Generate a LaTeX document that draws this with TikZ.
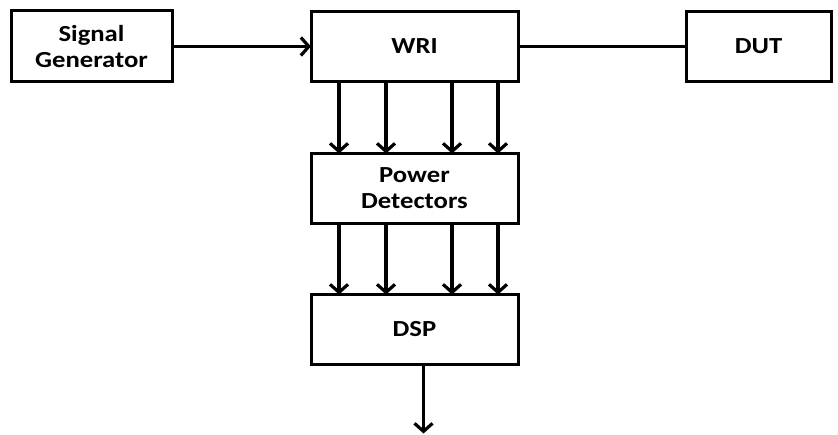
\documentclass[tikz,border=0pt]{standalone}
\usepackage{fontspec}
\setmainfont{Carlito}[FakeStretch=1.16]
\usetikzlibrary{arrows.meta,positioning,calc}

\begin{document}
\begin{tikzpicture}[
  x=1pt, y=-1pt,
  block/.style={draw, line width=3pt, outer sep=0pt, align=center, minimum height=70pt,
    font=\fontsize{23}{26}\selectfont\bfseries},
  arr/.style={-{Straight Barb[length=8pt,width=18pt]}, line width=3.2pt},
  wire/.style={line width=3pt}
]
\useasboundingbox (0,0) rectangle (838,435);

\node[block, minimum width=161pt, minimum height=71pt] (sg) at (91.5,46.5) {Signal\\Generator};
\node[block, minimum width=207pt, right=139pt of sg] (wri) {WRI};
\node[block, minimum width=145pt, right=168pt of wri] (dut) {DUT};
\node[block, minimum width=207pt, below=72pt of wri] (pd) {Power\\Detectors};
\node[block, minimum width=207pt, below=71pt of pd] (dsp) {DSP};
\coordinate (out) at ($(dsp.south)+(9,69)$);

\draw[arr] (sg) -- (wri);
\draw[wire] (wri) -- (dut);
\foreach \dx in {-75.5,-28.5,37.5,83.5} {
  \draw[arr] ([xshift=\dx pt]wri.south) -- ([xshift=\dx pt]pd.north);
  \draw[arr] ([xshift=\dx pt]pd.south) -- ([xshift=\dx pt]dsp.north);
}
\draw[arr] (dsp.south -| out) -- (out);

\end{tikzpicture}
\end{document}
